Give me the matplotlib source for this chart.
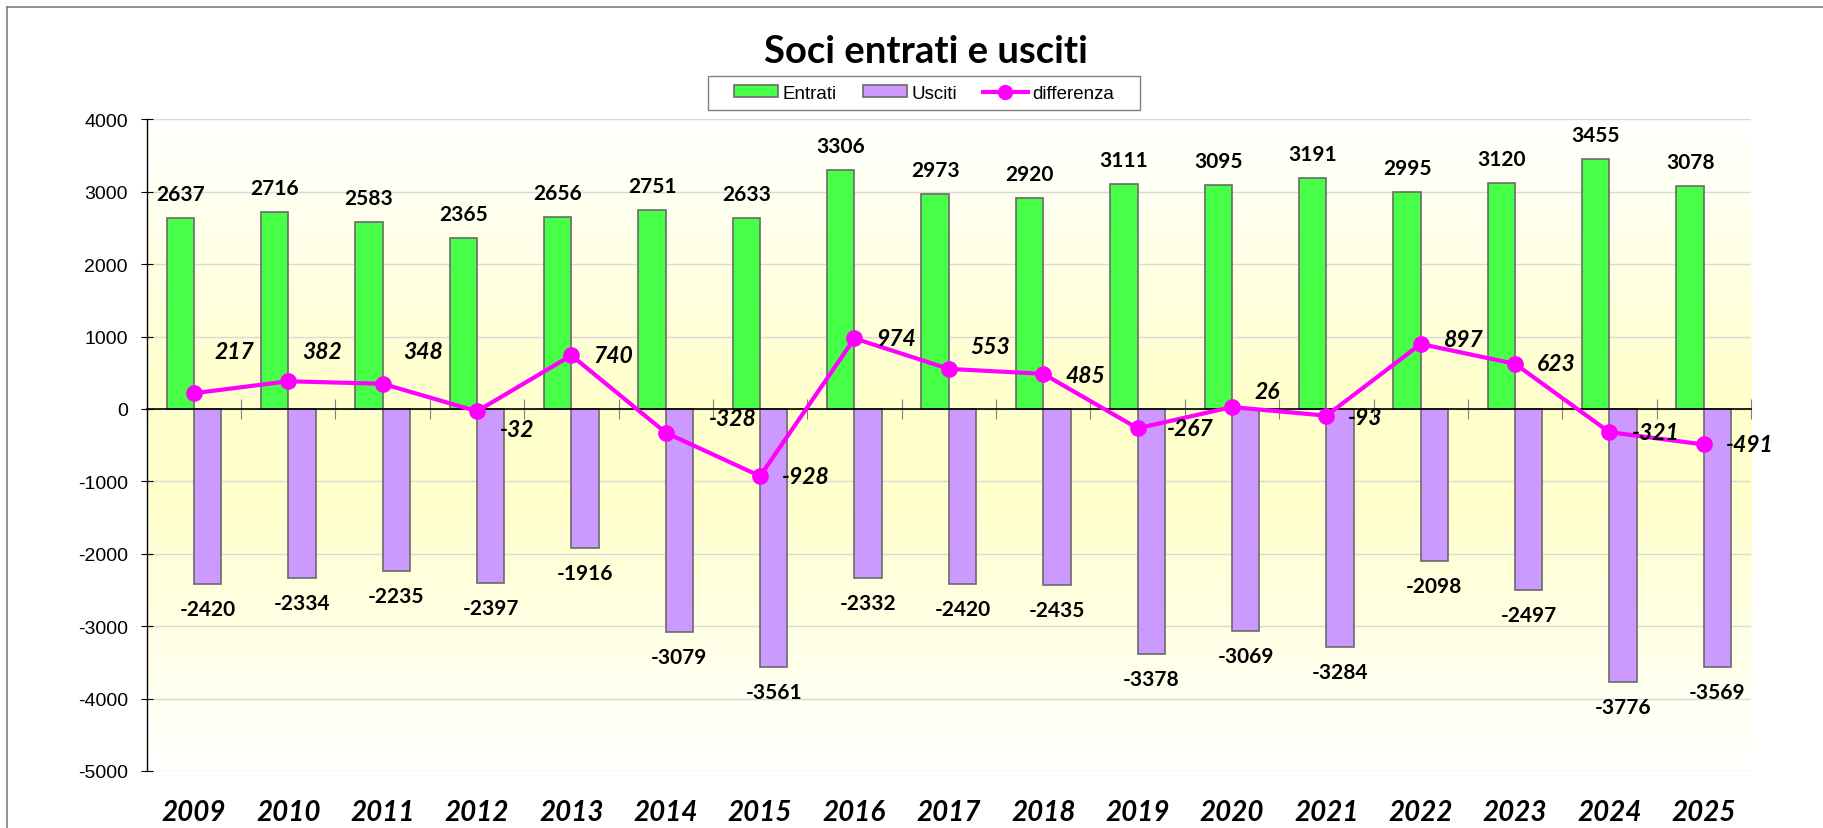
import numpy as np
import matplotlib
matplotlib.use("Agg")
import matplotlib.pyplot as plt
from matplotlib.colors import LinearSegmentedColormap
from matplotlib.lines import Line2D
from matplotlib.patches import Rectangle, Patch

plt.rcParams["axes.unicode_minus"] = False

# --- data -------------------------------------------------------------
years = ["2009", "2010", "2011", "2012", "2013", "2014", "2015", "2016", "2017",
         "2018", "2019", "2020", "2021", "2022", "2023", "2024", "2025"]
entrati = [2637, 2716, 2583, 2365, 2656, 2751, 2633, 3306, 2973,
           2920, 3111, 3095, 3191, 2995, 3120, 3455, 3078]
usciti = [-2420, -2334, -2235, -2397, -1916, -3079, -3561, -2332, -2420,
          -2435, -3378, -3069, -3284, -2098, -2497, -3776, -3569]
differenza = [217, 382, 348, -32, 740, -328, -928, 974, 553,
              485, -267, 26, -93, 897, 623, -321, -491]
y_ticks = [4000, 3000, 2000, 1000, 0, -1000, -2000, -3000, -4000, -5000]

# label placement for the "differenza" values (pixel offsets from the marker)
diff_label_offsets = [(41, 42), (34, 30), (40, 32), (40, -18), (42, 0), (67, 14),
                      (46, 0), (42, 0), (41, 22), (42, -2), (53, 0), (35, 16),
                      (39, -2), (42, 4), (41, 0), (46, 0), (46, 0)]

# --- style ------------------------------------------------------------
GREEN = "#48FF48"
PURPLE = "#CC99FF"
MAGENTA = "#FF00FF"
EDGE = "#6A6A6A"
LABEL_FONT = "Lato"
AXIS_FONT = "Liberation Sans"

W, H, DPI = 1823, 829, 100
fig = plt.figure(figsize=(W / DPI, H / DPI), dpi=DPI)
fig.patch.set_facecolor("white")

left, right, top, bottom = 146.7, 1751, 120.3, 772
ax = fig.add_axes([left / W, 1 - bottom / H, (right - left) / W, (bottom - top) / H])

x = np.arange(len(years))
bar_w = 0.29

# soft yellow background gradient of the plot area
cmap = LinearSegmentedColormap.from_list(
    "bg", [(0.0, "#FFFFFF"), (0.42, "#FFFFCC"), (0.58, "#FFFFCC"), (1.0, "#FFFFFF")])
ax.imshow(np.linspace(0, 1, 256).reshape(-1, 1), cmap=cmap, aspect="auto",
          extent=[0, 1, 0, 1], transform=ax.transAxes, origin="lower", zorder=0)

ax.set_xlim(-0.5, len(years) - 0.5)
ax.set_ylim(-5000, 4000)

# horizontal gridlines
ax.set_yticks(y_ticks)
ax.yaxis.grid(True, color="#D9D9D9", lw=1.0, zorder=0.5)
ax.set_axisbelow(True)

bars_in = ax.bar(x - bar_w / 2, entrati, width=bar_w, color=GREEN,
                 edgecolor=EDGE, lw=1.2, zorder=2)
bars_out = ax.bar(x + bar_w / 2, usciti, width=bar_w, color=PURPLE,
                  edgecolor=EDGE, lw=1.2, zorder=2)
ax.plot(x, differenza, color=MAGENTA, lw=3.0, marker="o", ms=11,
        zorder=4, solid_capstyle="round")

# value labels
for xi, v in zip(x, entrati):
    ax.annotate(str(v), (xi - bar_w / 2, v), xytext=(0, 24), textcoords="offset pixels",
                ha="center", va="center", fontsize=15, fontweight="bold",
                family=LABEL_FONT, zorder=6)
for xi, v in zip(x, usciti):
    ax.annotate(str(v), (xi + bar_w / 2, v), xytext=(0, -25), textcoords="offset pixels",
                ha="center", va="center", fontsize=15, fontweight="bold",
                family=LABEL_FONT, zorder=6)
for xi, v, (dx, dy) in zip(x, differenza, diff_label_offsets):
    ax.annotate(str(v), (xi, v), xytext=(dx, dy), textcoords="offset pixels",
                ha="center", va="center", fontsize=16.5, fontweight="bold",
                style="italic", family=LABEL_FONT, zorder=6)

# axes: zero line with category boundary ticks, labels at the bottom
for s in ("top", "right"):
    ax.spines[s].set_visible(False)
ax.spines["left"].set_color("black")
ax.spines["left"].set_linewidth(1.0)
ax.spines["bottom"].set_position(("data", 0))
ax.spines["bottom"].set_color("black")
ax.spines["bottom"].set_linewidth(1.2)
ax.spines["bottom"].set_zorder(3)
ax.set_xticks(np.arange(-0.5, len(years), 1.0))
ax.set_xticklabels([])
ax.tick_params(axis="x", direction="inout", length=14.4, width=0.8, color="#808080")
ax.tick_params(axis="y", direction="inout", length=8, width=0.8, color="black",
               pad=9.5, labelsize=14)
for lab in ax.get_yticklabels():
    lab.set_family(AXIS_FONT)

sec = ax.secondary_xaxis("bottom")
sec.set_xticks(x)
sec.set_xticklabels(years)
sec.spines["bottom"].set_visible(False)
sec.tick_params(length=0, pad=20)
for lab in sec.get_xticklabels():
    lab.set_family(LABEL_FONT)
    lab.set_fontweight("bold")
    lab.set_style("italic")
    lab.set_fontsize(20)

# title
fig.text(926 / W, 1 - 52 / H, "Soci entrati e usciti", ha="center", va="center",
         fontsize=27.5, fontweight="bold", family=LABEL_FONT)

# legend
handles = [Patch(facecolor=GREEN, edgecolor=EDGE, lw=1.2),
           Patch(facecolor=PURPLE, edgecolor=EDGE, lw=1.2),
           Line2D([], [], color=MAGENTA, lw=3.0, marker="o", ms=10)]
leg = fig.legend(handles, ["Entrati", "Usciti", "differenza"], ncol=3,
                 loc="center", bbox_to_anchor=(923.9 / W, 1 - 94.2 / H),
                 frameon=False, prop={"family": AXIS_FONT, "size": 13.5},
                 handlelength=2.35, handleheight=0.55, handletextpad=0.25,
                 columnspacing=1.4, borderpad=0.2)
fig.canvas.draw()
bb = leg.get_window_extent()
pad_x, cy, hh = 22, (bb.y0 + bb.y1) / 2, 34
fig.add_artist(Rectangle((bb.x0 - pad_x, cy - hh / 2), bb.width + 2 * pad_x, hh,
                         transform=None, fill=False, edgecolor="#808080", lw=1.0))

# outer chart frame
fig.add_artist(Line2D([7 / W, 7 / W], [0, 1 - 8 / H], transform=fig.transFigure,
                      color="#7F7F7F", lw=1.2))
fig.add_artist(Line2D([7 / W, 1], [1 - 8 / H, 1 - 8 / H], transform=fig.transFigure,
                      color="#7F7F7F", lw=1.2))

fig.savefig("out.png", dpi=DPI)
